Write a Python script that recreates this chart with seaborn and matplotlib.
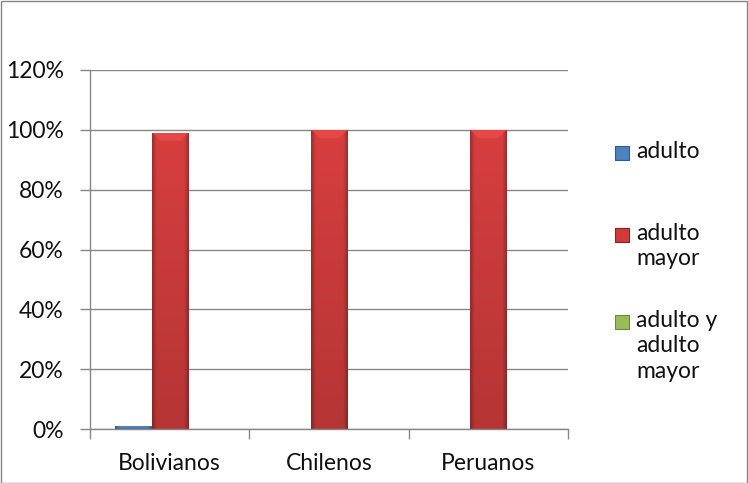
import matplotlib
matplotlib.use("Agg")
import matplotlib.pyplot as plt
from matplotlib.patches import Rectangle
from matplotlib.colors import to_rgb
import numpy as np
import pandas as pd
import seaborn as sns

# Data
categories = ["Bolivianos", "Chilenos", "Peruanos"]
series = ["adulto", "adulto mayor", "adulto y adulto mayor"]
adulto = [1.0, 0.0, 0.0]
adulto_mayor = [99.0, 100.0, 100.0]
adulto_y_mayor = [0.0, 0.0, 0.0]
y_ticks = [0, 20, 40, 60, 80, 100, 120]
legend_labels = ["adulto", "adulto\nmayor", "adulto y\nadulto\nmayor"]

colors = ["#4F81BD", "#CF3C3C", "#9BBB59"]
edges = ["#2E5C8F", "#8E2222", "#6A8A35"]

rows = []
for s, vals in zip(series, [adulto, adulto_mayor, adulto_y_mayor]):
    for c, v in zip(categories, vals):
        rows.append({"pais": c, "grupo": s, "valor": v})
df = pd.DataFrame(rows)

sns.set_theme(style="white")
plt.rcParams["font.family"] = ["Lato", "DejaVu Sans"]
FS = 16.5
TXT = "#111111"

fig = plt.figure(figsize=(7.48, 4.83), dpi=100)
ax = fig.add_axes([90 / 748, 54 / 483, 478 / 748, 359 / 483])

sns.barplot(data=df, x="pais", y="valor", hue="grupo", hue_order=series,
            palette=colors, width=0.68, ax=ax, legend=False, saturation=1)

ax.set_ylim(0, 120)
ax.set_xlim(-0.5, 2.5)


def shade_bar(bar, base):
    """Overlay a bevelled gradient fill clipped to the bar."""
    x0, y0 = bar.get_x(), bar.get_y()
    w, h = bar.get_width(), bar.get_height()
    if h <= 0:
        return
    rgb = np.array(to_rgb(base))
    ny, nx = 200, 40
    u = np.linspace(0, 1, nx)[None, :]
    v = np.linspace(0, 1, ny)[:, None]          # 0 = top, 1 = bottom
    # vertical: lighter near top, darker toward bottom
    vert = 1.04 - 0.16 * v
    # horizontal: darker side edges
    edge = np.minimum(u, 1 - u)
    horiz = 0.74 + 0.26 * np.clip(edge / 0.12, 0, 1)
    fac = vert * horiz
    img = np.clip(rgb[None, None, :] * fac[:, :, None], 0, 1)
    # top bevel: a lighter band on tall bars
    bbox = bar.get_window_extent()
    hpx = max(bbox.height, 1)
    bev_px = 8.0
    if hpx > 4 * bev_px:
        vpx = v * hpx
        top = (vpx < bev_px) & (vpx < edge * bbox.width)
        img[np.broadcast_to(top, (ny, nx))] = np.clip(rgb * 1.1 + 0.02, 0, 1)
    im = ax.imshow(img, extent=(x0, x0 + w, y0, y0 + h), aspect="auto",
                   origin="upper", zorder=bar.get_zorder() + 0.1,
                   interpolation="bilinear")
    im.set_clip_path(bar)


fig.canvas.draw()
for cont, base, ec in zip(ax.containers, colors, edges):
    for bar in cont:
        bar.set_edgecolor(ec)
        bar.set_linewidth(0.6)
        shade_bar(bar, base)

ax.set_ylim(0, 120)
ax.set_xlim(-0.5, 2.5)
ax.set_yticks(y_ticks)
ax.set_yticklabels([f"{t}%" for t in y_ticks], fontsize=FS, color=TXT)
ax.set_xticks(range(len(categories)))
ax.set_xticklabels(categories, fontsize=FS, color=TXT)
ax.set_xlabel("")
ax.set_ylabel("")

grid_c = "#878787"
ax.yaxis.grid(True, color=grid_c, linewidth=1)
ax.set_axisbelow(True)
for side in ["top", "right"]:
    ax.spines[side].set_visible(False)
for side in ["left", "bottom"]:
    ax.spines[side].set_color(grid_c)
    ax.spines[side].set_linewidth(1)

ax.tick_params(axis="y", which="major", length=7, width=1, color=grid_c,
               direction="out", left=True, pad=12)
ax.tick_params(axis="x", which="major", length=0, pad=17)
# Category boundary ticks on the x axis
ax.set_xticks([-0.5, 0.5, 1.5, 2.5], minor=True)
ax.tick_params(axis="x", which="minor", length=7, width=1, color=grid_c,
               direction="out", bottom=True)

# Legend drawn to the right of the plot area
legend_y = [153, 235, 322]
for lab, col, ec, yy in zip(legend_labels, colors, edges, legend_y):
    fig.patches.append(Rectangle((615 / 748, 1 - (yy + 7) / 483), 14 / 748, 14 / 483,
                                 transform=fig.transFigure, facecolor=col,
                                 edgecolor=ec, linewidth=0.8))
    fig.text(636 / 748, 1 - (yy - 12) / 483, lab, fontsize=FS, va="top",
             ha="left", color=TXT, linespacing=1.25)

# Outer frame
fig.patches.append(Rectangle((0.5 / 748, 0.5 / 483), 1 - 1.5 / 748, 1 - 1.5 / 483,
                             transform=fig.transFigure, fill=False,
                             edgecolor="#868686", linewidth=1))

fig.savefig("out.png", dpi=100)
